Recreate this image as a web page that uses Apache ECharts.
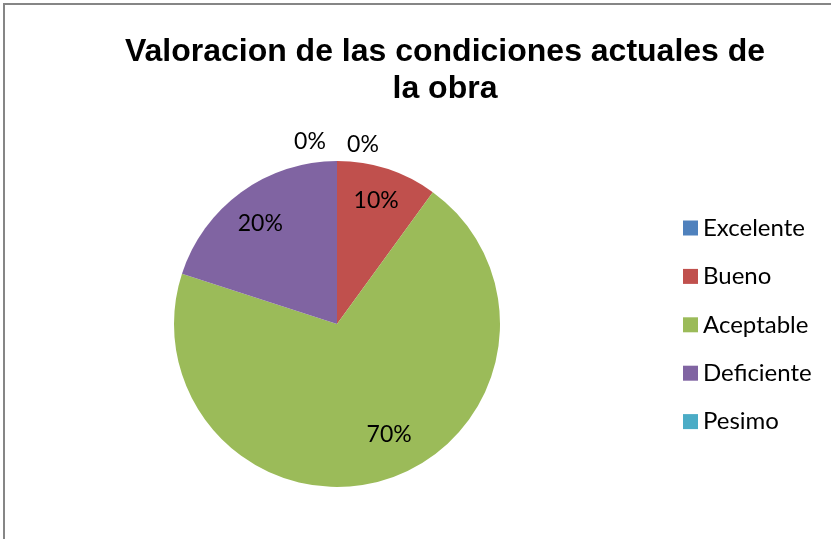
<!DOCTYPE html>
<html>
<head>
<meta charset="utf-8">
<script src="https://cdn.jsdelivr.net/npm/echarts@6/dist/echarts.min.js"></script>
<style>html,body{margin:0;padding:0;background:#fff}#c{width:831px;height:539px}</style>
</head>
<body>
<div id="c"></div>
<script>
const titleText = 'Valoracion de las condiciones actuales de\nla obra';
const categories = ['Excelente', 'Bueno', 'Aceptable', 'Deficiente', 'Pesimo'];
const values = [0, 10, 70, 20, 0];
const colors = ['#4F81BD', '#C0504D', '#9BBB59', '#8064A2', '#4BACC6'];
// label offsets (styling only)
const labelOffsets = [[26, -95], [13, -43], [26, 30], [-27, -32], [-27, -98]];

const total = values.reduce((a, b) => a + b, 0);
const chart = echarts.init(document.getElementById('c'));
chart.setOption({
  animation: false,
  backgroundColor: '#ffffff',
  graphic: [{
    type: 'rect', silent: true, z: -1,
    shape: { x: 4, y: 4, width: 900, height: 600 },
    style: { fill: 'none', stroke: '#868686', lineWidth: 2 }
  }],
  title: {
    text: titleText,
    left: 440, top: 29, textAlign: 'center',
    textStyle: { fontFamily: 'Liberation Sans', fontWeight: 'bold', fontSize: 32, lineHeight: 37, color: '#000' }
  },
  legend: {
    orient: 'vertical', left: 678, top: 211,
    icon: 'rect', itemWidth: 15, itemHeight: 15, itemGap: 24.4, itemTextGap: 8,
    data: categories,
    textStyle: { fontFamily: 'Lato', fontSize: 24, lineHeight: 24, color: '#000' }
  },
  series: [{
    type: 'pie',
    center: [337, 324], radius: 163,
    startAngle: 90, clockwise: true,
    stillShowZeroSum: true,
    minShowLabelAngle: 0,
    avoidLabelOverlap: false,
    silent: true,
    labelLine: { show: false },
    label: {
      show: true, position: 'inside',
      fontFamily: 'Lato', fontSize: 23, color: '#000',
      formatter: p => Math.round(p.value / total * 100) + '%'
    },
    data: categories.map((name, i) => ({
      name, value: values[i],
      itemStyle: { color: colors[i] },
      label: { offset: labelOffsets[i] }
    }))
  }]
});
</script>
</body>
</html>
